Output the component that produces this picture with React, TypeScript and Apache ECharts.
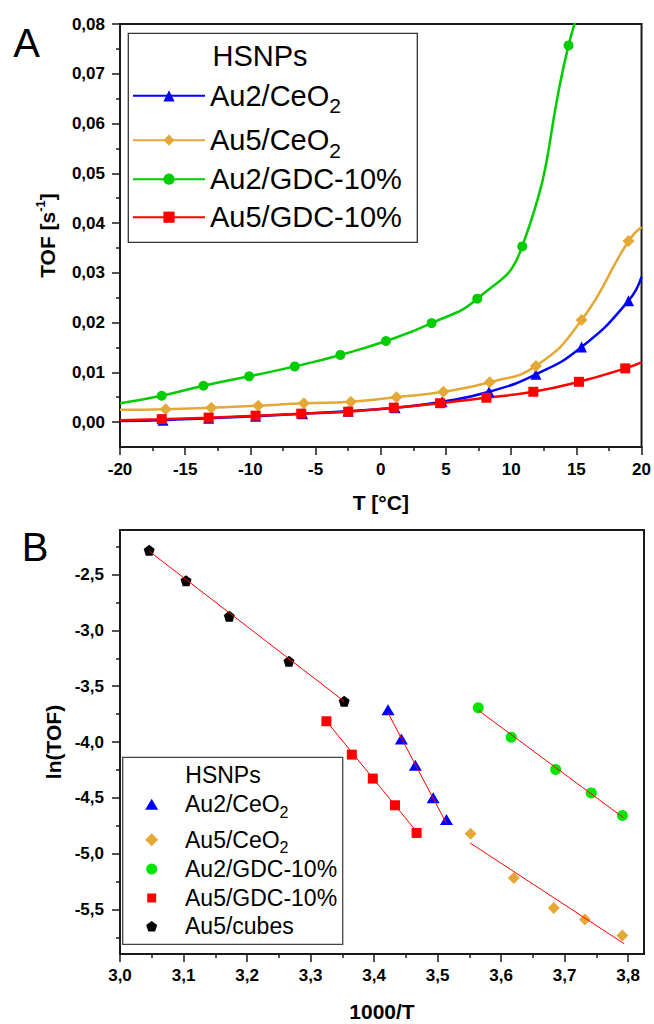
import React, { useEffect, useRef } from "react";
import * as echarts from "echarts";

const FONT = "'Liberation Sans', Arial, Helvetica, sans-serif";
const BLUE = "#0000ff";
const ORANGE = "#e4a836";
const GREEN_A = "#00cc00";
const GREEN_B = "#00e600";
const RED = "#ff0000";
const BLACK = "#000000";
const AX = "#1a1a1a";

// ---------- Panel A: TOF vs T ----------
const aXTicks = [-20, -15, -10, -5, 0, 5, 10, 15, 20];
const aXMinor = [-17.5, -12.5, -7.5, -2.5, 2.5, 7.5, 12.5, 17.5];
const aYTicks = [0, 0.01, 0.02, 0.03, 0.04, 0.05, 0.06, 0.07, 0.08];
const aYMinor = [0.005, 0.015, 0.025, 0.035, 0.045, 0.055, 0.065, 0.075];

const au2CeO2T = [-16.7, -13.2, -9.6, -6.0, -2.5, 1.1, 4.7, 8.3, 11.9, 15.4, 19.0];
const au2CeO2TOF = [0.0004, 0.0008, 0.0012, 0.0017, 0.0022, 0.0029, 0.0041, 0.0061, 0.0096, 0.0151, 0.0244];
const au2CeO2Ends = [[-20, 0.0002], [20, 0.0292]];

const au5CeO2T = [-16.5, -13.0, -9.4, -5.9, -2.3, 1.2, 4.8, 8.35, 11.9, 15.4, 19.0];
const au5CeO2TOF = [0.0026, 0.0029, 0.0033, 0.0038, 0.0041, 0.005, 0.0061, 0.008, 0.0113, 0.0205, 0.0364];
const au5CeO2Ends = [[-20, 0.0025], [20, 0.0392]];

const au2GdcT = [-16.8, -13.6, -10.1, -6.6, -3.1, 0.4, 3.9, 7.4, 10.85, 14.4];
const au2GdcTOF = [0.0053, 0.0073, 0.0092, 0.0112, 0.0135, 0.0163, 0.0199, 0.0248, 0.0353, 0.0757];
const au2GdcEnds = [[-20, 0.0038], [15.5, 0.085]];

const au5GdcT = [-16.8, -13.2, -9.6, -6.1, -2.5, 1.0, 4.55, 8.1, 11.7, 15.2, 18.75];
const au5GdcTOF = [0.0006, 0.0009, 0.0013, 0.0017, 0.0021, 0.0029, 0.0038, 0.0049, 0.0061, 0.0081, 0.0108];
const au5GdcEnds = [[-20, 0.0004], [20, 0.012]];

// ---------- Panel B: ln(TOF) vs 1000/T ----------
const bXTicks = [3.0, 3.1, 3.2, 3.3, 3.4, 3.5, 3.6, 3.7, 3.8];
const bXMinor = [3.05, 3.15, 3.25, 3.35, 3.45, 3.55, 3.65, 3.75];
const bYTicks = [-5.5, -5.0, -4.5, -4.0, -3.5, -3.0, -2.5];
const bYMinor = [-5.75, -5.25, -4.75, -4.25, -3.75, -3.25, -2.75, -2.25];

const lnAu2CeO2X = [3.422, 3.443, 3.465, 3.493, 3.514];
const lnAu2CeO2Y = [-3.71, -3.972, -4.209, -4.5, -4.695];
const fitAu2CeO2 = [[3.422, -3.74], [3.514, -4.73]];

const lnAu5CeO2X = [3.552, 3.62, 3.683, 3.732, 3.791];
const lnAu5CeO2Y = [-4.823, -5.218, -5.487, -5.591, -5.735];
const fitAu5CeO2 = [[3.551, -4.904], [3.794, -5.809]];

const lnAu2GdcX = [3.564, 3.616, 3.686, 3.742, 3.791];
const lnAu2GdcY = [-3.694, -3.958, -4.247, -4.456, -4.659];
const fitAu2Gdc = [[3.564, -3.715], [3.793, -4.68]];

const lnAu5GdcX = [3.325, 3.365, 3.398, 3.433, 3.467];
const lnAu5GdcY = [-3.814, -4.113, -4.328, -4.567, -4.815];
const fitAu5Gdc = [[3.325, -3.814], [3.465, -4.79]];

const lnCubesX = [3.046, 3.104, 3.172, 3.266, 3.353];
const lnCubesY = [-2.282, -2.554, -2.874, -3.277, -3.635];
const fitCubes = [[3.046, -2.29], [3.353, -3.635]];

const PENTAGON = "path://M0,-1 L0.951,-0.309 L0.588,0.809 L-0.588,0.809 L-0.951,-0.309 Z";

const pairs = (xs: number[], ys: number[]) => xs.map((x, i) => [x, ys[i]]);
const curveData = (xs: number[], ys: number[], ends: number[][]) => [
  { value: ends[0], symbol: "none" },
  ...pairs(xs, ys),
  { value: ends[1], symbol: "none" },
];

const tickLine = { color: AX, width: 1.5 };
const labelBase = { fontFamily: FONT, fontWeight: "bold", fontSize: 17, color: "#000" };
const nameBase = { fontFamily: FONT, fontWeight: "bold", fontSize: 21, color: "#000" };

function minorAxis(grid: number, pos: string, min: number, max: number, values: number[]) {
  return {
    type: "value",
    gridIndex: grid,
    position: pos,
    min,
    max,
    axisLine: { show: false, onZero: false },
    axisTick: { show: true, inside: false, length: 4, lineStyle: tickLine, customValues: values },
    axisLabel: { show: false },
    splitLine: { show: false },
  };
}

function buildOption(): any {
  const lineSeries = (name: string, xs: number[], ys: number[], ends: number[][], color: string, symbol: string, size: number) => ({
    name,
    type: "line",
    xAxisIndex: 0,
    yAxisIndex: 0,
    data: curveData(xs, ys, ends),
    smooth: 0.5,
    symbol,
    symbolSize: size,
    lineStyle: { color, width: 2.5 },
    itemStyle: { color, borderWidth: 0 },
    emphasis: { disabled: true },
    clip: true,
  });

  const scatter = (name: string, xs: number[], ys: number[], color: string, symbol: string, size: any) => ({
    name,
    type: "scatter",
    xAxisIndex: 2,
    yAxisIndex: 2,
    data: pairs(xs, ys),
    symbol,
    symbolSize: size,
    itemStyle: { color, opacity: 1 },
    emphasis: { disabled: true },
  });

  const fit = (name: string, pts: number[][]) => ({
    name,
    type: "line",
    xAxisIndex: 2,
    yAxisIndex: 2,
    data: pts,
    symbol: "none",
    lineStyle: { color: RED, width: 1 },
    emphasis: { disabled: true },
    silent: true,
    z: 3,
  });

  const topLegend = (name: string, main: string, sub: string, cy: number) => ({
    show: true,
    data: [name],
    left: 132,
    top: cy - 18,
    padding: 0,
    itemWidth: 72,
    itemHeight: 14,
    selectedMode: false,
    formatter: () => (sub ? `{a|${main}}{s|${sub}}` : `{a|${main}}`),
    textStyle: {
      color: "#000",
      fontFamily: FONT,
      fontSize: 29,
      rich: {
        a: { color: "#000", fontFamily: FONT, fontSize: 29, lineHeight: 36 },
        s: { color: "#000", fontFamily: FONT, fontSize: 21, lineHeight: 36, padding: [20, 0, 0, 0] },
      },
    },
  });

  const botLegend = (name: string, main: string, sub: string, cy: number, w: number, h: number) => ({
    show: true,
    data: [name],
    left: 151.7 - w / 2,
    top: cy - 13.5,
    padding: 0,
    itemWidth: w,
    itemHeight: h,
    symbolKeepAspect: true,
    selectedMode: false,
    formatter: () => (sub ? `{a|${main}}{s|${sub}}` : `{a|${main}}`),
    textStyle: {
      color: "#000",
      fontFamily: FONT,
      fontSize: 23,
      rich: {
        a: { color: "#000", fontFamily: FONT, fontSize: 23, lineHeight: 27, padding: [0, 0, 0, 28.3 - w / 2] },
        s: { color: "#000", fontFamily: FONT, fontSize: 16, lineHeight: 27, padding: [16, 0, 0, 0] },
      },
    },
  });

  return {
    animation: false,
    backgroundColor: "#fff",
    textStyle: { fontFamily: FONT },
    grid: [
      { left: 120, top: 24, width: 523, height: 423, show: true, borderColor: AX, borderWidth: 2, backgroundColor: "transparent" },
      { left: 120, top: 530, width: 524, height: 424, show: true, borderColor: AX, borderWidth: 2, backgroundColor: "transparent" },
    ],
    xAxis: [
      {
        type: "value",
        gridIndex: 0,
        position: "bottom",
        min: -20,
        max: 20,
        axisLine: { show: true, onZero: false, lineStyle: { color: AX, width: 2 } },
        axisTick: { show: true, inside: false, length: 8, lineStyle: tickLine, customValues: aXTicks },
        axisLabel: { ...labelBase, margin: 14, customValues: aXTicks, formatter: (v: number) => String(Math.round(v)) },
        splitLine: { show: false },
        name: "T [°C]",
        nameLocation: "middle",
        nameGap: 45,
        nameTextStyle: nameBase,
      },
      minorAxis(0, "bottom", -20, 20, aXMinor),
      {
        type: "value",
        gridIndex: 1,
        position: "bottom",
        min: 3.0,
        max: 3.825,
        axisLine: { show: true, onZero: false, lineStyle: { color: AX, width: 2 } },
        axisTick: { show: true, inside: false, length: 8, lineStyle: tickLine, customValues: bXTicks },
        axisLabel: { ...labelBase, margin: 13, customValues: bXTicks, formatter: (v: number) => v.toFixed(1).replace(".", ",") },
        splitLine: { show: false },
        name: "1000/T",
        nameLocation: "middle",
        nameGap: 47,
        nameTextStyle: nameBase,
      },
      minorAxis(1, "bottom", 3.0, 3.825, bXMinor),
    ],
    yAxis: [
      {
        type: "value",
        gridIndex: 0,
        position: "left",
        min: -0.005,
        max: 0.08,
        axisLine: { show: true, onZero: false, lineStyle: { color: AX, width: 2 } },
        axisTick: { show: true, inside: false, length: 8, lineStyle: tickLine, customValues: aYTicks },
        axisLabel: { ...labelBase, margin: 15, customValues: aYTicks, formatter: (v: number) => v.toFixed(2).replace(".", ",") },
        splitLine: { show: false },
        name: "{n|TOF [s}{p|-1}{n|]}",
        nameLocation: "middle",
        nameGap: 51,
        nameTextStyle: {
          ...nameBase,
          rich: {
            n: { ...nameBase, lineHeight: 26 },
            p: { ...nameBase, fontSize: 13, lineHeight: 26, padding: [0, 0, 14, 0] },
          },
        },
      },
      minorAxis(0, "left", -0.005, 0.08, aYMinor),
      {
        type: "value",
        gridIndex: 1,
        position: "left",
        min: -5.9,
        max: -2.1,
        axisLine: { show: true, onZero: false, lineStyle: { color: AX, width: 2 } },
        axisTick: { show: true, inside: false, length: 8, lineStyle: tickLine, customValues: bYTicks },
        axisLabel: { ...labelBase, margin: 16, customValues: bYTicks, formatter: (v: number) => v.toFixed(1).replace(".", ",") },
        splitLine: { show: false },
        name: "ln(TOF)",
        nameLocation: "middle",
        nameGap: 47,
        nameTextStyle: nameBase,
      },
      minorAxis(1, "left", -5.9, -2.1, bYMinor),
    ],
    legend: [
      topLegend("Au2/CeO2", "Au2/CeO", "2", 93.3),
      topLegend("Au5/CeO2", "Au5/CeO", "2", 137.7),
      topLegend("Au2/GDC-10%", "Au2/GDC-10%", "", 182.7),
      topLegend("Au5/GDC-10%", "Au5/GDC-10%", "", 220.7),
      botLegend("ln Au2/CeO2", "Au2/CeO", "2", 801.7, 13, 11),
      botLegend("ln Au5/CeO2", "Au5/CeO", "2", 837.3, 13, 13),
      botLegend("ln Au2/GDC-10%", "Au2/GDC-10%", "", 871, 11, 11),
      botLegend("ln Au5/GDC-10%", "Au5/GDC-10%", "", 900, 9, 9),
      botLegend("ln Au5/cubes", "Au5/cubes", "", 928.3, 11, 11),
    ],
    graphic: [
      { type: "text", x: 26.5, y: 42.5, style: { text: "A", fontFamily: FONT, fontSize: 40, fill: "#000", align: "center", verticalAlign: "middle", textAlign: "center", textVerticalAlign: "middle" } },
      { type: "text", x: 35, y: 547, style: { text: "B", fontFamily: FONT, fontSize: 40, fill: "#000", align: "center", verticalAlign: "middle", textAlign: "center", textVerticalAlign: "middle" } },
      { type: "rect", z: 1, shape: { x: 128.3, y: 33.3, width: 289, height: 209 }, style: { fill: "rgba(0,0,0,0)", stroke: "#333", lineWidth: 1.3 } },
      { type: "text", x: 260, y: 56, style: { text: "HSNPs", fontFamily: FONT, fontSize: 29, fill: "#000", align: "center", verticalAlign: "middle", textAlign: "center", textVerticalAlign: "middle" } },
      { type: "rect", z: 1, shape: { x: 122.7, y: 757.3, width: 220, height: 187 }, style: { fill: "rgba(0,0,0,0)", stroke: "#444", lineWidth: 1.3 } },
      { type: "text", x: 223, y: 775, style: { text: "HSNPs", fontFamily: FONT, fontSize: 23, fill: "#000", align: "center", verticalAlign: "middle", textAlign: "center", textVerticalAlign: "middle" } },
    ],
    series: [
      lineSeries("Au2/CeO2", au2CeO2T, au2CeO2TOF, au2CeO2Ends, BLUE, "triangle", 11),
      lineSeries("Au5/CeO2", au5CeO2T, au5CeO2TOF, au5CeO2Ends, ORANGE, "diamond", 12),
      lineSeries("Au2/GDC-10%", au2GdcT, au2GdcTOF, au2GdcEnds, GREEN_A, "circle", 10),
      lineSeries("Au5/GDC-10%", au5GdcT, au5GdcTOF, au5GdcEnds, RED, "rect", 10),
      scatter("ln Au2/CeO2", lnAu2CeO2X, lnAu2CeO2Y, BLUE, "triangle", [13, 11]),
      scatter("ln Au5/CeO2", lnAu5CeO2X, lnAu5CeO2Y, ORANGE, "diamond", 12),
      scatter("ln Au2/GDC-10%", lnAu2GdcX, lnAu2GdcY, GREEN_B, "circle", 11),
      scatter("ln Au5/GDC-10%", lnAu5GdcX, lnAu5GdcY, RED, "rect", 10),
      scatter("ln Au5/cubes", lnCubesX, lnCubesY, BLACK, PENTAGON, 11),
      fit("fit Au2/CeO2", fitAu2CeO2),
      fit("fit Au5/CeO2", fitAu5CeO2),
      fit("fit Au2/GDC-10%", fitAu2Gdc),
      fit("fit Au5/GDC-10%", fitAu5Gdc),
      fit("fit Au5/cubes", fitCubes),
    ],
  };
}

export default function App() {
  const ref = useRef<HTMLDivElement>(null);
  useEffect(() => {
    document.body.style.margin = "0";
    const chart = echarts.init(ref.current as HTMLDivElement, null, { renderer: "svg" });
    chart.setOption(buildOption());
    return () => chart.dispose();
  }, []);
  return <div ref={ref} style={{ width: 654, height: 1024 }} />;
}
